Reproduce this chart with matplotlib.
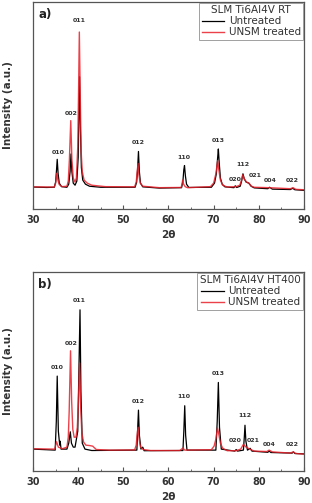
import matplotlib.pyplot as plt
from matplotlib.ticker import MultipleLocator

# panel a) SLM Ti6Al4V RT
a_x_black = [30, 33, 34.7, 35.0, 35.2, 35.35, 35.55, 35.8, 36.3, 37.5, 37.9, 38.2, 38.4, 38.6, 38.9, 39.3, 39.7,
             40.0, 40.15, 40.3, 40.5, 40.7, 41.0, 41.6, 42.5, 45, 52.6, 52.95, 53.15, 53.35, 53.55, 53.8, 54.3,
             58, 62.9, 63.2, 63.4, 63.55, 63.75, 64, 64.5, 69.5, 70.2, 70.6, 70.9, 71.05, 71.25, 71.5, 71.9,
             72.5, 74.5, 74.8, 75.1, 75.9, 76.2, 76.5, 76.8, 77.2, 77.8, 78.3, 79, 82, 82.4, 83, 87, 87.5,
             88, 90]
a_y_black = [10.6, 10.4, 10.5, 13, 19, 24, 17, 12.5, 10.8, 10.5, 12, 18, 26.6, 18, 12.5, 11.5, 13.5,
             25, 45, 63.9, 38, 20, 14, 12, 11, 10.5, 10.5, 13, 19, 27.8, 18, 12.5, 10.7,
             10.1, 10.3, 13.5, 19, 21, 16, 12, 10.4, 10.5, 12.5, 17, 25, 29, 22, 15, 12,
             10.7, 10.3, 11.2, 10.4, 11, 13.5, 17, 14.5, 13, 12.5, 11, 10.2, 9.8, 10.5, 9.6, 9.4, 10,
             9.3, 9]
a_x_red = [30, 34.7, 35.0, 35.2, 35.3, 35.5, 35.8, 36.4, 37.5, 37.8, 38.05, 38.35, 38.6, 38.9, 39.3, 39.6, 39.9,
           40.1, 40.25, 40.45, 40.65, 40.9, 41.3, 42, 43, 46, 52.5, 52.85, 53.05, 53.25, 53.45, 53.75, 54.3,
           58, 62.8, 63.0, 63.15, 63.35, 63.7, 64.2, 69.3, 70.0, 70.5, 70.9, 71.15, 71.5, 72, 73, 75,
           75.8, 76.2, 76.45, 76.8, 77.3, 77.8, 78.4, 79, 82.2, 87, 87.6, 88.2, 90]
a_y_red = [10.7, 10.6, 12.5, 16, 17.3, 14, 11.8, 10.8, 11, 13.5, 24, 42.7, 24, 15, 13, 15, 30,
           60, 85.5, 55, 28, 18, 14, 12.5, 11.5, 10.8, 10.7, 13, 17.5, 22, 16.5, 12.5, 11,
           10.3, 10.4, 12, 14, 12, 10.8, 10.3, 10.8, 12.5, 17, 23.4, 19, 14, 11.5, 10.6, 10.8,
           11.5, 14, 16.5, 14.5, 13, 12.5, 11, 10.5, 10.3, 9.8, 10.3, 9.5, 9.3]

# panel b) SLM Ti6Al4V HT400
b_x_black = [30, 34.9, 35.15, 35.35, 35.6, 35.9, 36.0, 36.2, 37.5, 37.9, 38.25, 38.5, 38.9, 39.3, 39.9, 40.15, 40.4,
             40.6, 40.9, 41.5, 43, 53, 53.15, 53.35, 53.55, 53.9, 54.3, 54.6, 63.2, 63.4, 63.6, 63.8, 64.1,
             70.5, 70.8, 71.05, 71.3, 71.7, 74.7, 75, 75.3, 76.6, 76.8, 76.95, 77.15, 77.5, 78.1, 78.5,
             82, 82.3, 82.7, 87.4, 87.7, 88, 90]
b_y_black = [11, 10.5, 25, 47.7, 20, 13, 15, 11, 11, 14, 19.7, 14, 12, 12, 20, 50, 81,
             40, 14, 11, 10.3, 10.5, 20, 30.6, 18, 11, 12, 10.2, 10.3, 20, 32.8, 18, 10.5,
             10.5, 25, 44.5, 22, 11, 10, 10.8, 10, 10.5, 17, 23, 15, 10.5, 11.4, 10,
             9.4, 10, 9.3, 9, 9.6, 8.8, 8.6]
b_x_red = [30, 34.8, 35.2, 35.6, 36.5, 37.5, 37.8, 38.0, 38.3, 38.55, 38.8, 39.1, 39.5, 39.8, 40.05, 40.3, 40.55,
           40.8, 41.2, 41.7, 42.5, 43.2, 44, 47, 52.5, 52.85, 53.05, 53.25, 53.5, 53.8, 54.4, 56, 62.5,
           63.2, 63.6, 69.5, 70.1, 70.5, 70.85, 71.15, 71.5, 72, 73, 75, 76, 76.6, 77.2, 78, 79, 81.8,
           82.3, 83, 87, 87.6, 88.2, 90]
b_y_red = [11.2, 11, 14.7, 12, 11.2, 12, 17, 30, 60.4, 35, 21, 17, 17, 22, 35, 54.3, 32,
           19, 14.5, 13, 12.8, 12.5, 10.8, 10.5, 10.6, 13, 18, 22, 16, 12, 10.8, 10.3, 10.3,
           11.5, 10.5, 10.7, 12.5, 16, 21.7, 18.5, 14, 11.5, 10.2, 10.2, 11, 13.4, 12, 11, 10, 9.8,
           10.5, 9.6, 9, 9.6, 8.8, 8.5]

hkl = ["010", "002", "011", "012", "110", "013", "020", "112", "021", "004", "022"]
a_lab_x = [35.5, 38.4, 40.2, 53.3, 63.4, 71.0, 74.8, 76.5, 79.2, 82.5, 87.5]
a_lab_y = [26.2, 45.0, 89.7, 30.7, 23.9, 31.8, 13.2, 20.5, 14.8, 12.7, 12.5]
b_lab_x = [35.3, 38.4, 40.2, 53.2, 63.4, 71.0, 74.8, 76.9, 78.7, 82.3, 87.4]
b_lab_y = [51.0, 62.9, 84.6, 33.9, 36.1, 47.7, 13.9, 26.4, 14.2, 12.2, 12.2]

RED = "#e8202a"
FRAME = "#555555"

fig = plt.figure(figsize=(3.12, 5.03), dpi=100)
ax_a = fig.add_axes([0.106, 0.5845, 0.868, 0.4115])
ax_b = fig.add_axes([0.106, 0.0636, 0.868, 0.3956])

panels = [
    (ax_a, "a)", "SLM Ti6Al4V RT", a_x_black, a_y_black, a_x_red, a_y_red, a_lab_x, a_lab_y),
    (ax_b, "b)", "SLM Ti6Al4V HT400", b_x_black, b_y_black, b_x_red, b_y_red, b_lab_x, b_lab_y),
]

for ax, tag, title, xk, yk, xr, yr, lx, ly in panels:
    ax.plot(xk, yk, color="black", lw=0.9, label="Untreated")
    ax.plot(xr, yr, color=RED, lw=1.0, alpha=0.85, label="UNSM treated")
    for t, x, y in zip(hkl, lx, ly):
        ax.text(x, y, t, fontsize=4.5, fontweight="bold", color="#333333",
                ha="center", va="bottom")
    ax.set_xlim(30, 90)
    ax.set_ylim(0, 100)
    ax.set_yticks([])
    ax.xaxis.set_major_locator(MultipleLocator(10))
    ax.xaxis.set_minor_locator(MultipleLocator(5))
    ax.tick_params(axis="x", which="major", direction="in", length=3, width=0.8,
                   labelsize=7, pad=4, colors=FRAME, labelcolor="#333333")
    ax.tick_params(axis="x", which="minor", direction="in", length=1.8, width=0.6, colors=FRAME)
    for lbl in ax.get_xticklabels():
        lbl.set_fontweight("bold")
    for s in ax.spines.values():
        s.set_color(FRAME)
        s.set_linewidth(0.9)
    ax.set_xlabel("2θ", fontsize=7.5, fontweight="bold", color="#333333", labelpad=4)
    ax.set_ylabel("Intensity (a.u.)", fontsize=7.5, fontweight="bold", color="#333333")
    ax.yaxis.set_label_coords(-0.075, 0.5)
    ax.text(0.02, 0.97, tag, transform=ax.transAxes, fontsize=8.5, fontweight="bold",
            ha="left", va="top", color="#222222")
    leg = ax.legend(title=title, loc="upper right", fontsize=7.5, title_fontsize=7.5,
                    frameon=True, fancybox=False, borderaxespad=0.05, borderpad=0.25,
                    handlelength=2.2, handletextpad=0.4, labelspacing=0.1)
    leg.get_frame().set_edgecolor("#888888")
    leg.get_frame().set_linewidth(0.7)
    leg.get_title().set_color("#333333")
    for t in leg.get_texts():
        t.set_color("#333333")

fig.savefig("out.png", dpi=100)
